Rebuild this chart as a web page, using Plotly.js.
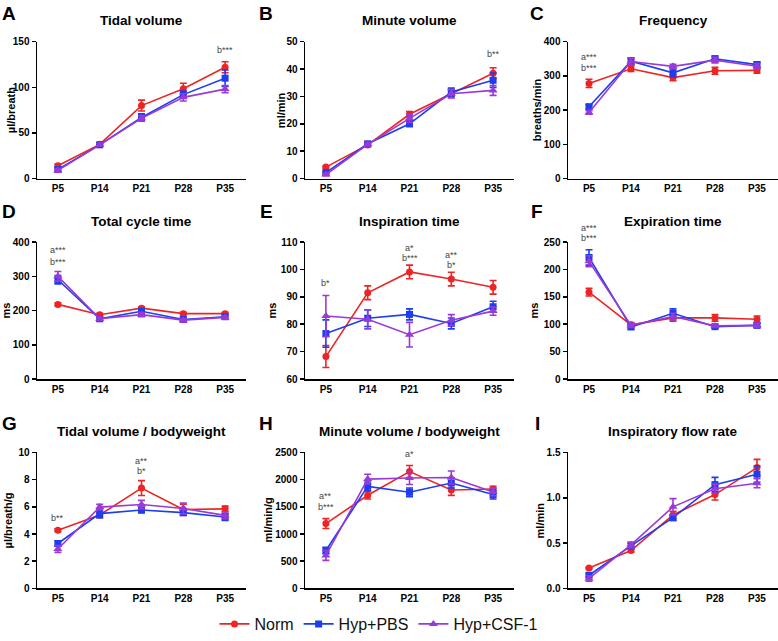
<!DOCTYPE html>
<html>
<head>
<meta charset="utf-8">
<script src="https://cdn.plot.ly/plotly-3.0.1.min.js"></script>
<style>html,body{margin:0;padding:0;background:#fff;}#chart{width:778px;height:641px;}</style>
</head>
<body>
<div id="chart"></div>
<script>
// ---------- DATA ----------
const categories = ['P5', 'P14', 'P21', 'P28', 'P35'];
const groupNames = ['Norm', 'Hyp+PBS', 'Hyp+CSF-1'];

// A Tidal volume (µl/breath)
const tvNorm = [14, 37.5, 80, 98.5, 122];   const tvNormErr = [2, 1.5, 6, 6, 6];
const tvPBS  = [10, 37, 67, 92, 110];       const tvPBSErr  = [2, 1.5, 4, 4, 9];
const tvCSF  = [9, 37, 66, 89, 98];         const tvCSFErr  = [2, 1.5, 3, 4, 4];

// B Minute volume (ml/min)
const mvNorm = [4.2, 12.3, 23.5, 31, 38.5]; const mvNormErr = [0.4, 0.6, 1, 1.5, 2];
const mvPBS  = [2.2, 12.7, 20, 31.6, 35.9]; const mvPBSErr  = [0.4, 0.6, 1, 1.5, 2.6];
const mvCSF  = [1.5, 12.5, 22, 31, 32.2];   const mvCSFErr  = [0.4, 0.6, 1.5, 1.5, 1.8];

// C Frequency (breaths/min)
const fNorm = [278, 321, 295, 315, 316];    const fNormErr = [12, 8, 9, 10, 8];
const fPBS  = [210, 343, 309, 350, 333];    const fPBSErr  = [6, 10, 12, 8, 8];
const fCSF  = [193, 342, 328, 346, 328];    const fCSFErr  = [5, 10, 6, 8, 8];

// D Total cycle time (ms)
const tctNorm = [218, 188, 207, 191, 191];  const tctNormErr = [4, 4, 4, 4, 4];
const tctPBS  = [290, 176, 198, 174, 182];  const tctPBSErr  = [12, 5, 6, 5, 5];
const tctCSF  = [300, 176, 188, 172, 180];  const tctCSFErr  = [14, 5, 6, 5, 5];

// E Inspiration time (ms)
const tiNorm = [68.2, 91.5, 99.1, 96.5, 93.5]; const tiNormErr = [4, 2.5, 2.5, 2.5, 2.5];
const tiPBS  = [76.6, 82.2, 83.6, 80.3, 86.4]; const tiPBSErr  = [5, 3, 2, 2, 2];
const tiCSF  = [83, 81.8, 76.2, 81.5, 84.8];   const tiCSFErr  = [7.5, 3.5, 4.5, 2, 1.5];

// F Expiration time (ms)
const teNorm = [158.6, 99, 111.6, 111.6, 109]; const teNormErr = [7, 4, 6, 6, 6];
const tePBS  = [222, 95, 120, 95.6, 98];       const tePBSErr  = [14, 4, 8, 3, 4];
const teCSF  = [215, 98, 114, 97, 98];         const teCSFErr  = [10, 4, 6, 3, 4];

// G Tidal volume / bodyweight (µl/breath/g)
const tvbwNorm = [4.28, 5.4, 7.38, 5.8, 5.85]; const tvbwNormErr = [0.1, 0.2, 0.55, 0.4, 0.2];
const tvbwPBS  = [3.3, 5.5, 5.76, 5.57, 5.25]; const tvbwPBSErr  = [0.2, 0.3, 0.2, 0.2, 0.25];
const tvbwCSF  = [2.9, 5.98, 6.17, 5.88, 5.37]; const tvbwCSFErr = [0.25, 0.2, 0.3, 0.4, 0.25];

// H Minute volume / bodyweight (ml/min/g)
const mvbwNorm = [1192, 1713, 2149, 1810, 1828]; const mvbwNormErr = [90, 70, 110, 100, 50];
const mvbwPBS  = [696, 1876, 1767, 1937, 1725];  const mvbwPBSErr  = [60, 80, 80, 90, 80];
const mvbwCSF  = [605, 2010, 2030, 2040, 1774];  const mvbwCSFErr  = [90, 90, 120, 120, 70];

// I Inspiratory flow rate (ml/min)
const ifrNorm = [0.225, 0.418, 0.81, 1.035, 1.333]; const ifrNormErr = [0.01, 0.02, 0.04, 0.06, 0.09];
const ifrPBS  = [0.145, 0.47, 0.78, 1.145, 1.26];   const ifrPBSErr  = [0.02, 0.03, 0.03, 0.08, 0.09];
const ifrCSF  = [0.11, 0.48, 0.9, 1.10, 1.16];      const ifrCSFErr  = [0.03, 0.03, 0.09, 0.05, 0.05];

// Panel letters, titles, y-axis labels, y tick values
const panelLetters = ['A', 'B', 'C', 'D', 'E', 'F', 'G', 'H', 'I'];
const panelTitles = ['Tidal volume', 'Minute volume', 'Frequency', 'Total cycle time', 'Inspiration time',
  'Expiration time', 'Tidal volume / bodyweight', 'Minute volume / bodyweight', 'Inspiratory flow rate'];
const yLabels = ['µl/breath', 'ml/min', 'breaths/min', 'ms', 'ms', 'ms', 'µl/breath/g', 'ml/min/g', 'ml/min'];
const yTicksA = [0, 50, 100, 150];
const yTicksB = [0, 10, 20, 30, 40, 50];
const yTicksC = [0, 100, 200, 300, 400];
const yTicksD = [0, 100, 200, 300, 400];
const yTicksE = [60, 70, 80, 90, 100, 110];
const yTicksF = [0, 50, 100, 150, 200, 250];
const yTicksG = [0, 2, 4, 6, 8, 10];
const yTicksH = [0, 500, 1000, 1500, 2000, 2500];
const yTicksI = [0, 0.5, 1.0, 1.5];

// Significance labels: panel index, category, y value, text
const sigPanel = [0, 1, 2, 2, 3, 3, 4, 4, 4, 4, 4, 5, 5, 6, 6, 6, 7, 7, 7];
const sigCat   = ['P35', 'P35', 'P5', 'P5', 'P5', 'P5', 'P5', 'P21', 'P21', 'P28', 'P28', 'P5', 'P5', 'P5', 'P21', 'P21', 'P5', 'P5', 'P21'];
const sigY     = [141, 45.5, 355, 323, 376, 342, 95.1, 107.8, 104.2, 105.4, 101.8, 276, 258, 5.2, 9.37, 8.6, 1695, 1500, 2480];
const sigText  = ['b***', 'b**', 'a***', 'b***', 'a***', 'b***', 'b*', 'a*', 'b***', 'a**', 'b*', 'a***', 'b***', 'b**', 'a**', 'b*', 'a**', 'b***', 'a*'];

// ---------- BUILD ----------
const W = 778, H = 641;
const colors = ['#ee2424', '#1e3cf0', '#9a3ad6'];
const symbols = ['circle', 'square', 'triangle-up'];
const FONT = 'Arial, "Liberation Sans", Helvetica, sans-serif';

const panelSeries = [
  [[tvNorm, tvNormErr], [tvPBS, tvPBSErr], [tvCSF, tvCSFErr]],
  [[mvNorm, mvNormErr], [mvPBS, mvPBSErr], [mvCSF, mvCSFErr]],
  [[fNorm, fNormErr], [fPBS, fPBSErr], [fCSF, fCSFErr]],
  [[tctNorm, tctNormErr], [tctPBS, tctPBSErr], [tctCSF, tctCSFErr]],
  [[tiNorm, tiNormErr], [tiPBS, tiPBSErr], [tiCSF, tiCSFErr]],
  [[teNorm, teNormErr], [tePBS, tePBSErr], [teCSF, teCSFErr]],
  [[tvbwNorm, tvbwNormErr], [tvbwPBS, tvbwPBSErr], [tvbwCSF, tvbwCSFErr]],
  [[mvbwNorm, mvbwNormErr], [mvbwPBS, mvbwPBSErr], [mvbwCSF, mvbwCSFErr]],
  [[ifrNorm, ifrNormErr], [ifrPBS, ifrPBSErr], [ifrCSF, ifrCSFErr]]
];
const yTicks = [yTicksA, yTicksB, yTicksC, yTicksD, yTicksE, yTicksF, yTicksG, yTicksH, yTicksI];

// layout geometry in pixels
const colX = [[37, 246], [305, 514], [568, 778]];
const rowY = [[42, 180], [244, 382], [456, 593]];
const titleY = [21, 223, 435];
const letterX = [9, 266, 537];
const letterY = [14, 213, 427];
const ylabX = [[11, 281, 537], [6, 272, 534], [8, 268, 540]];

const px = x => x / W;
const py = y => 1 - y / H;

const data = [];
const layout = {
  width: W, height: H,
  margin: {l: 0, r: 0, t: 0, b: 0},
  paper_bgcolor: '#fff', plot_bgcolor: '#fff',
  font: {family: FONT, color: '#000'},
  showlegend: true,
  legend: {
    orientation: 'h', x: px(379), xanchor: 'center', y: py(629), yanchor: 'middle',
    font: {family: FONT, size: 16, color: '#111'}, itemwidth: 30, tracegroupgap: 0
  },
  annotations: []
};

for (let p = 0; p < 9; p++) {
  const r = Math.floor(p / 3), c = p % 3;
  const xa = p === 0 ? 'x' : 'x' + (p + 1);
  const ya = p === 0 ? 'y' : 'y' + (p + 1);
  const ticks = yTicks[p];
  layout['xaxis' + (p === 0 ? '' : p + 1)] = {
    domain: [px(colX[c][0]), px(colX[c][1])],
    anchor: ya, type: 'category', categoryorder: 'array', categoryarray: categories,
    range: [-0.5, 4.5], showline: true, linecolor: '#000', linewidth: 1.5,
    ticks: '', showgrid: false, zeroline: false, fixedrange: true,
    tickfont: {family: FONT, size: 10, weight: 'bold', color: '#000'}
  };
  layout['yaxis' + (p === 0 ? '' : p + 1)] = {
    domain: [py(rowY[r][1]), py(rowY[r][0])],
    anchor: xa, range: [ticks[0], ticks[ticks.length - 1]],
    tickvals: ticks, ticktext: ticks.map(v => p === 8 ? v.toFixed(1) : String(v)),
    showline: true, linecolor: '#000', linewidth: 1.5, ticks: 'outside', ticklen: 4, tickwidth: 1.5, tickcolor: '#000',
    showgrid: false, zeroline: false, fixedrange: true,
    tickfont: {family: FONT, size: 10, weight: 'bold', color: '#000'}
  };
  panelSeries[p].forEach((s, g) => {
    data.push({
      type: 'scatter', mode: 'lines+markers',
      x: categories, y: s[0], xaxis: xa, yaxis: ya,
      name: groupNames[g], legendgroup: groupNames[g], showlegend: p === 0,
      line: {color: colors[g], width: 1.6},
      marker: {color: colors[g], symbol: symbols[g], size: g === 2 ? 8 : 7},
      error_y: {type: 'data', array: s[1], visible: true, color: colors[g], thickness: 1.6, width: 3.5},
      cliponaxis: false
    });
  });
  layout.annotations.push({
    xref: 'paper', yref: 'paper', x: px((colX[c][0] + colX[c][1]) / 2), y: py(titleY[r]),
    xanchor: 'center', yanchor: 'middle', showarrow: false,
    text: '<b>' + panelTitles[p] + '</b>', font: {family: FONT, size: 13.5, color: '#000'}
  });
  layout.annotations.push({
    xref: 'paper', yref: 'paper', x: px(letterX[c]), y: py(letterY[r]),
    xanchor: 'center', yanchor: 'middle', showarrow: false,
    text: '<b>' + panelLetters[p] + '</b>', font: {family: FONT, size: 19, color: '#000'}
  });
  layout.annotations.push({
    xref: 'paper', yref: 'paper', x: px(ylabX[r][c]), y: py((rowY[r][0] + rowY[r][1]) / 2),
    xanchor: 'center', yanchor: 'middle', showarrow: false, textangle: -90,
    text: '<b>' + yLabels[p] + '</b>', font: {family: FONT, size: 11, color: '#000'}
  });
}

// significance labels: x on the category axis, y mapped through the panel's y-axis range onto the paper
for (let i = 0; i < sigText.length; i++) {
  const p = sigPanel[i];
  const yax = layout['yaxis' + (p === 0 ? '' : p + 1)];
  const frac = (sigY[i] - yax.range[0]) / (yax.range[1] - yax.range[0]);
  layout.annotations.push({
    xref: p === 0 ? 'x' : 'x' + (p + 1), yref: 'paper',
    x: sigCat[i], y: yax.domain[0] + frac * (yax.domain[1] - yax.domain[0]),
    showarrow: false, xanchor: 'center', yanchor: 'middle',
    text: sigText[i], font: {family: FONT, size: 9, color: '#444'}
  });
}

Plotly.newPlot('chart', data, layout, {displayModeBar: false, staticPlot: true});
</script>
</body>
</html>
